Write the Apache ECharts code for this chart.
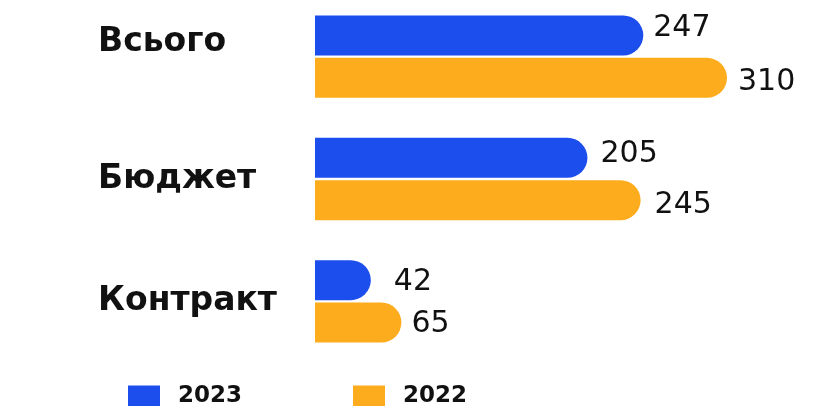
<!DOCTYPE html>
<html><head><meta charset="utf-8">
<script src="https://cdn.jsdelivr.net/npm/echarts@6/dist/echarts.min.js"></script>
<style>html,body{margin:0;padding:0;background:#fff;overflow:hidden}#c{width:820px;height:416px;margin-top:-10px}</style>
</head><body><div id="c"></div>
<script>
const categories = ['Всього', 'Бюджет', 'Контракт'];
const values2023 = [247, 205, 42];
const values2022 = [310, 245, 65];
const seriesNames = ['2023', '2022'];

const FONT = '"DejaVu Sans", Verdana, sans-serif';
// label tweaks (style only)
const dist2023 = [10, 13, 23], dy2023 = [-7, -4, 2];
const dist2022 = [11, 14, 10], dy2022 = [4, 5, 2];

const labelStyle = { show: true, position: 'right', color: '#111', fontSize: 30, fontFamily: FONT };
function items(vals, dist, dy) {
  return vals.map((v, i) => ({ value: v, label: Object.assign({}, labelStyle, { distance: dist[i], offset: [0, dy[i]] }) }));
}

const chart = echarts.init(document.getElementById('c'));
chart.setOption({
  animation: false,
  grid: { left: 315, width: 412, top: 5.5, height: 367, containLabel: false },
  xAxis: { type: 'value', min: 0, max: 310, show: false },
  yAxis: {
    type: 'category', data: categories, inverse: true,
    axisLine: { show: false }, axisTick: { show: false },
    axisLabel: {
      align: 'left', margin: 217, color: '#111', fontWeight: 'bold', fontSize: 33, fontFamily: FONT,
      formatter: (v, i) => i === 0 ? '{up|' + v + '}' : '{n|' + v + '}',
      rich: {
        up: { color: '#111', fontWeight: 'bold', fontSize: 33, fontFamily: FONT, padding: [0, 0, 28, 0] },
        n: { color: '#111', fontWeight: 'bold', fontSize: 33, fontFamily: FONT }
      }
    }
  },
  legend: {
    data: seriesNames, left: 123, top: 390, icon: 'rect', itemWidth: 32, itemHeight: 22, itemGap: 111,
    textStyle: { color: '#111', fontWeight: 'bold', fontSize: 23, fontFamily: FONT, padding: [0, 0, 0, 13] }
  },
  series: [
    { name: seriesNames[0], type: 'bar', data: items(values2023, dist2023, dy2023), barWidth: 40, barGap: '6%', itemStyle: { color: '#1c4ded', borderRadius: [0, 20, 20, 0] } },
    { name: seriesNames[1], type: 'bar', data: items(values2022, dist2022, dy2022), barWidth: 40, itemStyle: { color: '#fdac1d', borderRadius: [0, 20, 20, 0] } }
  ]
});
</script></body></html>
